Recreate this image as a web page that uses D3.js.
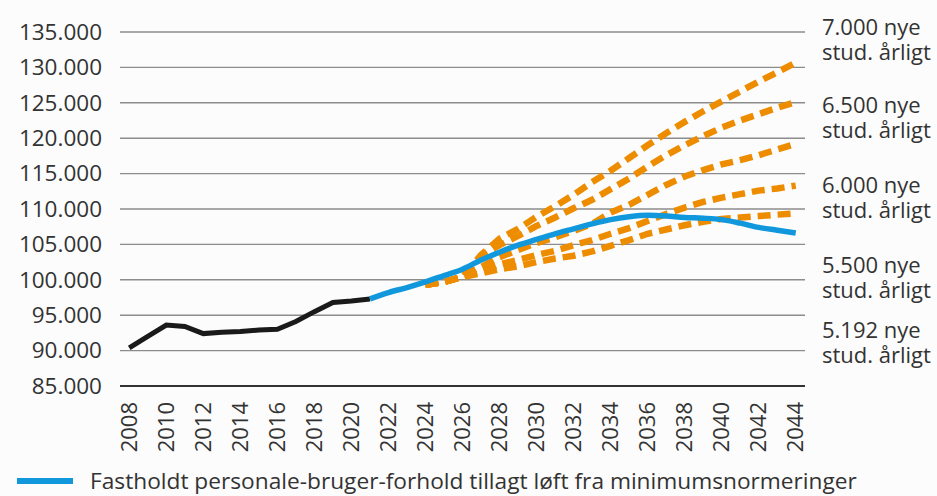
<!DOCTYPE html>
<html>
<head>
<meta charset="utf-8">
<script src="https://cdn.jsdelivr.net/npm/d3@7"></script>
<style>
  body { margin: 0; background: #fcfcfc; }
  svg { display: block; }
  text { font-family: "Open Sans", sans-serif; fill: #333; }
</style>
</head>
<body>
<div id="chart"></div>
<script>
// years on the x axis
const years = d3.range(2008, 2045);
const yTicks = d3.range(85000, 135001, 5000);

// historic (black)
const histYears = d3.range(2008, 2022);
const histValues = [90400, 92000, 93600, 93400, 92400, 92600, 92700, 92900, 93000, 94100, 95500, 96800, 97000, 97300];

// fixed staff-user ratio (blue)
const blueYears = d3.range(2021, 2045);
const blueValues = [97300, 98200, 98900, 99700, 100600, 101500, 102800, 103900, 104900, 105700, 106500, 107200,
  107900, 108500, 108900, 109100, 109000, 108800, 108700, 108500, 108000, 107400, 107000, 106600];

// student intake scenarios (orange dashed)
const scenYears = d3.range(2024, 2045);
const scen7000 = [99300, 99700, 100400, 103500, 105800, 107200, 108900, 110400, 112000, 113800, 115400,
  117200, 119000, 120700, 122300, 123800, 125200, 126600, 128000, 129300, 130700];
const scen6500 = [99300, 99700, 100400, 103400, 104900, 106200, 107600, 108800, 110100, 111300, 112800,
  114300, 116000, 117600, 119000, 120300, 121500, 122500, 123400, 124300, 125100];
const scen6000 = [99300, 99700, 100400, 101800, 103200, 104200, 105200, 106000, 106900, 107900, 109500,
  110600, 112000, 113400, 114600, 115500, 116300, 116900, 117600, 118400, 119200];
const scen5500 = [99300, 99700, 100400, 101200, 102200, 102800, 103500, 104100, 104900, 105600, 106500,
  107300, 108300, 109300, 110200, 111000, 111600, 112100, 112600, 112900, 113300];
const scen5192 = [99300, 99700, 100400, 100900, 101500, 101900, 102500, 103000, 103400, 104000, 104800,
  105600, 106500, 107100, 107700, 108200, 108600, 108800, 109000, 109200, 109400];
const scenarios = [scen7000, scen6500, scen6000, scen5500, scen5192];

const scenLabels = ["7.000 nye", "6.500 nye", "6.000 nye", "5.500 nye", "5.192 nye"];
const scenSub = "stud. årligt";
const legendLabel = "Fastholdt personale-bruger-forhold tillagt løft fra minimumsnormeringer";

const width = 937, height = 496;
const svg = d3.select("#chart").append("svg")
  .attr("width", width).attr("height", height);

const x = d3.scalePoint().domain(years).range([120, 805]).padding(0.5);
const y = d3.scaleLinear().domain([85000, 135000]).range([386, 32]);

const fmt = d3.formatLocale({decimal: ",", thousands: ".", grouping: [3], currency: ["", ""]}).format(",");

// grid
svg.append("g").selectAll("line")
  .data(yTicks)
  .join("line")
  .attr("x1", 120).attr("x2", 805)
  .attr("y1", d => y(d)).attr("y2", d => y(d))
  .attr("stroke", d => d === 85000 ? "#333" : "#8c8c8c")
  .attr("stroke-width", d => d === 85000 ? 1.8 : 1.4);

// y labels
svg.append("g").selectAll("text")
  .data(yTicks)
  .join("text")
  .attr("x", 102).attr("y", d => y(d))
  .attr("dy", "0.35em")
  .attr("text-anchor", "end")
  .style("font-size", "22.5px")
  .text(d => fmt(d));

// x labels
svg.append("g").selectAll("text")
  .data(years.filter(d => d % 2 === 0))
  .join("text")
  .attr("transform", d => `translate(${x(d)},402) rotate(-90)`)
  .attr("dy", "0.35em")
  .attr("text-anchor", "end")
  .style("font-size", "22px")
  .text(d => d);

const line = d3.line().x(d => x(d[0])).y(d => y(d[1]));

// scenarios
svg.append("g").selectAll("path")
  .data(scenarios)
  .join("path")
  .attr("d", vals => line(d3.zip(scenYears, vals)))
  .attr("fill", "none")
  .attr("stroke", "#ee8c00")
  .attr("stroke-width", 6.5)
  .attr("stroke-dasharray", "13,7");

// historic
svg.append("path")
  .attr("d", line(d3.zip(histYears, histValues)))
  .attr("fill", "none")
  .attr("stroke", "#1a1a1a")
  .attr("stroke-width", 5);

// blue
svg.append("path")
  .attr("d", line.curve(d3.curveMonotoneX)(d3.zip(blueYears, blueValues)))
  .attr("fill", "none")
  .attr("stroke", "#1198dc")
  .attr("stroke-width", 5.5);

// right labels, two lines each
const labelY = [27, 105, 185, 265, 330];
const lab = svg.append("g");
lab.selectAll("text.top")
  .data(scenLabels)
  .join("text")
  .attr("class", "top")
  .attr("x", 822)
  .attr("y", (d, i) => labelY[i])
  .attr("dy", "0.35em")
  .style("font-size", "22px")
  .text(d => d);
lab.selectAll("text.sub")
  .data(scenLabels)
  .join("text")
  .attr("class", "sub")
  .attr("x", 822)
  .attr("y", (d, i) => labelY[i] + 25)
  .attr("dy", "0.35em")
  .style("font-size", "22px")
  .text(scenSub);

// legend
svg.append("line")
  .attr("x1", 17).attr("x2", 73)
  .attr("y1", 481).attr("y2", 481)
  .attr("stroke", "#1198dc").attr("stroke-width", 6);
svg.append("text")
  .attr("x", 90).attr("y", 481)
  .attr("dy", "0.35em")
  .style("font-size", "22.7px")
  .text(legendLabel);
</script>
</body>
</html>
